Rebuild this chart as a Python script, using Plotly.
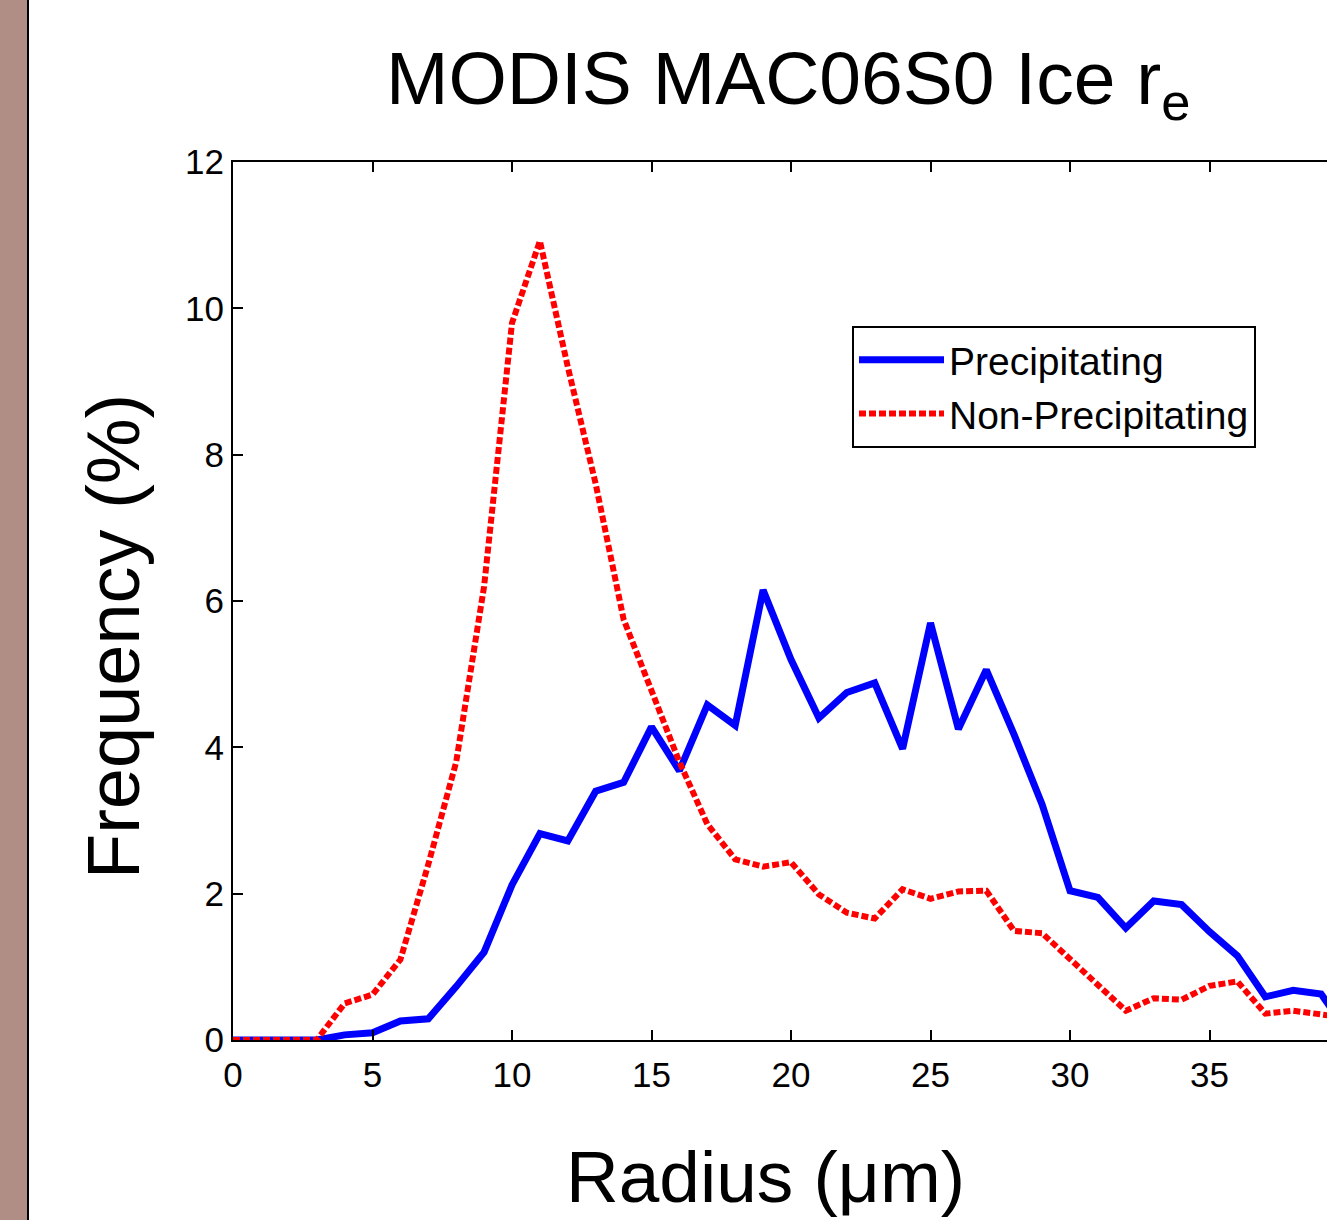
import plotly.graph_objects as go

radius = list(range(0, 41))
precip = [0, 0, 0, 0, 0.07, 0.1, 0.26, 0.29, 0.73, 1.2,
          2.12, 2.82, 2.72, 3.4, 3.52, 4.28, 3.68, 4.58, 4.3, 6.15,
          5.2, 4.4, 4.75, 4.88, 3.98, 5.7, 4.25, 5.06, 4.17, 3.22,
          2.04, 1.95, 1.53, 1.9, 1.85, 1.48, 1.15, 0.59, 0.68, 0.63,
          0.08]
nonprecip = [0, 0, 0, 0, 0.5, 0.62, 1.1, 2.4, 3.8, 6.2,
             9.8, 10.92, 9.2, 7.6, 5.75, 4.8, 3.8, 2.95, 2.47, 2.37,
             2.43, 1.99, 1.74, 1.66, 2.06, 1.93, 2.03, 2.04, 1.49, 1.46,
             1.1, 0.75, 0.4, 0.57, 0.55, 0.74, 0.8, 0.36, 0.4, 0.35,
             0.3]
x_ticks = [0, 5, 10, 15, 20, 25, 30, 35]
y_ticks = [0, 2, 4, 6, 8, 10, 12]

W, H = 1327, 1220
L, R, T, B = 233, 0, 162, 180
pw, ph = W - L - R, H - T - B

def px(p):
    return (p - L) / pw

def py(p):
    return (T + ph - p) / ph

FONT = "Liberation Sans, Arial, Helvetica, sans-serif"

fig = go.Figure()
fig.add_trace(go.Scatter(x=radius, y=precip, mode="lines", name="Precipitating",
                         line=dict(color="#0000FF", width=7)))
fig.add_trace(go.Scatter(x=radius, y=nonprecip, mode="lines", name="Non-Precipitating",
                         line=dict(color="#FF0000", width=6, dash="7px,3px")))

fig.update_layout(
    width=W, height=H,
    margin=dict(l=L, r=R, t=T, b=B, pad=0),
    paper_bgcolor="white", plot_bgcolor="white",
    font=dict(family=FONT, color="black", size=35),
    showlegend=True,
    legend=dict(x=px(852), y=py(326), xanchor="left", yanchor="top",
                bordercolor="black", borderwidth=2, bgcolor="white",
                font=dict(size=39, family=FONT), itemwidth=85,
                tracegroupgap=0),
    xaxis=dict(range=[0, (W - L) / 27.9], tickvals=x_ticks, ticks="inside",
               ticklen=10, tickwidth=2, tickcolor="black", showline=True,
               linewidth=2, linecolor="black", mirror="ticks", showgrid=False,
               zeroline=False, tickfont=dict(size=35), ticklabelstandoff=3),
    yaxis=dict(range=[0, 12], tickvals=y_ticks, ticks="inside",
               ticklen=10, tickwidth=2, tickcolor="black", showline=True,
               linewidth=2, linecolor="black", mirror=False, showgrid=False,
               zeroline=False, tickfont=dict(size=35), ticklabelstandoff=0),
)

# left brown strip and its black edge
fig.add_shape(type="rect", xref="paper", yref="paper", x0=px(0), x1=px(27),
              y0=py(H), y1=py(0), fillcolor="#B08E86", line=dict(width=0), layer="below")
fig.add_shape(type="line", xref="paper", yref="paper", x0=px(28), x1=px(28),
              y0=py(H), y1=py(0), line=dict(color="black", width=2))

fig.add_annotation(text="MODIS MAC06S0 Ice r<sub>e</sub>", xref="paper", yref="paper",
                   x=px(788), y=py(84), xanchor="center", yanchor="middle",
                   showarrow=False, font=dict(size=75, family=FONT))
fig.add_annotation(text="Frequency (%)", xref="paper", yref="paper",
                   x=px(113), y=py(637), xanchor="center", yanchor="middle",
                   textangle=-90, showarrow=False, font=dict(size=74, family=FONT))
fig.add_annotation(text="Radius (μm)", xref="paper", yref="paper",
                   x=px(765), y=py(1176), xanchor="center", yanchor="middle",
                   showarrow=False, font=dict(size=73, family=FONT))

fig.write_html("out.html")
